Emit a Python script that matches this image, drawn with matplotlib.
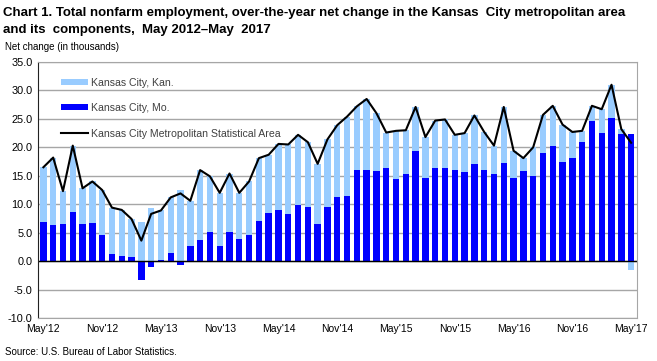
import numpy as np
import matplotlib
matplotlib.use("Agg")
import matplotlib.pyplot as plt

months = ["May'12", "Nov'12", "May'13", "Nov'13", "May'14", "Nov'14",
          "May'15", "Nov'15", "May'16", "Nov'16", "May'17"]

# Kansas City, Mo. (thousands), May 2012 - May 2017
mo = [6.9, 6.4, 6.5, 8.7, 6.5, 6.7, 4.6, 1.3, 0.9, 0.8, -3.3, -1.1, 0.2,
      1.5, -0.6, 2.6, 3.7, 5.1, 2.6, 5.1, 3.9, 4.6, 7.1, 8.5, 8.9, 8.3,
      9.9, 9.5, 6.5, 9.5, 11.3, 11.5, 16.0, 16.0, 15.8, 16.4, 14.4, 15.3,
      19.4, 14.6, 16.4, 16.4, 16.0, 15.7, 17.1, 16.0, 15.3, 17.3, 14.6,
      15.8, 15.0, 19.0, 20.2, 17.4, 18.1, 20.9, 24.6, 22.5, 25.1, 22.3, 22.3]

# Kansas City, Kan. (thousands)
kan = [9.6, 11.8, 5.8, 11.6, 6.3, 7.3, 7.9, 8.1, 8.1, 6.6, 6.9, 9.4, 8.7,
       9.7, 12.5, 8.0, 12.3, 9.8, 9.4, 10.3, 8.1, 9.4, 11.0, 10.2, 11.7,
       12.2, 12.3, 11.4, 10.6, 11.9, 12.6, 13.9, 11.2, 12.5, 10.2, 6.2,
       8.5, 7.7, 7.7, 7.2, 8.3, 8.5, 6.2, 6.8, 8.5, 6.7, 5.0, 9.8, 4.8,
       2.3, 5.0, 6.7, 7.1, 6.6, 4.6, 2.0, 2.7, 4.2, 5.9, 0.9, -1.5]

font = "Liberation Sans"

mo = np.array(mo)
kan = np.array(kan)
total = mo + kan
x = np.arange(len(mo))
kan_bottom = np.where((kan >= 0) & (mo > 0), mo, 0)

fig = plt.figure(figsize=(6.57, 3.61), dpi=100)
ax = fig.add_axes([38 / 657, 1 - 318 / 361, 598.5 / 657, 256 / 361])

ax.bar(x, mo, width=0.65, color="#0000FF", label="Kansas City, Mo.", zorder=2)
ax.bar(x, kan, width=0.65, bottom=kan_bottom, color="#99CCFF",
       label="Kansas City, Kan.", zorder=2)
ax.plot(x, total, color="black", lw=1.5, zorder=3,
        label="Kansas City Metropolitan Statistical Area")

ax.set_xlim(-0.55, 60.55)
ax.set_ylim(-10, 35)
ax.set_yticks(np.arange(-10, 36, 5))
ax.set_yticklabels([f"{v:.1f}" for v in np.arange(-10, 36, 5)],
                   fontsize=7.8, family=font)
ax.set_xticks(np.arange(0, 61, 6))
ax.set_xticklabels(months, fontsize=7.5, family=font)
ax.tick_params(length=0, pad=4)
ax.grid(axis="y", color="#A6A6A6", lw=1, zorder=0)
ax.axhline(0, color="black", lw=1, zorder=2.5)
for s in ["top", "right", "bottom"]:
    ax.spines[s].set_color("#A6A6A6")
ax.spines["left"].set_color("#222222")

h, l = ax.get_legend_handles_labels()
leg = ax.legend([h[2], h[1], h[0]], [l[2], l[1], l[0]], loc="upper left",
                bbox_to_anchor=(0.022, 0.975), frameon=False,
                prop={"family": font, "size": 7.6},
                labelspacing=1.45, handlelength=2.6, handleheight=0.5,
                handletextpad=0.3)
for t in leg.get_texts():
    t.set_color("#404040")
leg.set_zorder(1)

t1 = fig.text(0.005, 1 - 13 / 361,
              "Chart 1. Total nonfarm employment, over-the-year net change in the Kansas  City metropolitan area",
              fontsize=11, fontweight="bold", family=font, va="center")
t2 = fig.text(0.005, 1 - 30 / 361, "and its  components,  May 2012\u2013May  2017",
              fontsize=11, fontweight="bold", family=font, va="center")
# shrink the title so line one spans the same width as in the picture
r = fig.canvas.get_renderer()
w = t1.get_window_extent(r).width
size = 11 * 628 / w
t1.set_fontsize(size)
t2.set_fontsize(size)

fig.text(0.008, 1 - 47 / 361, "Net change (in thousands)", fontsize=7,
         family=font, va="center")
fig.text(0.008, 1 - 352 / 361, "Source: U.S. Bureau of Labor Statistics.",
         fontsize=7, family=font, va="center")

fig.savefig("out.png", dpi=100)
